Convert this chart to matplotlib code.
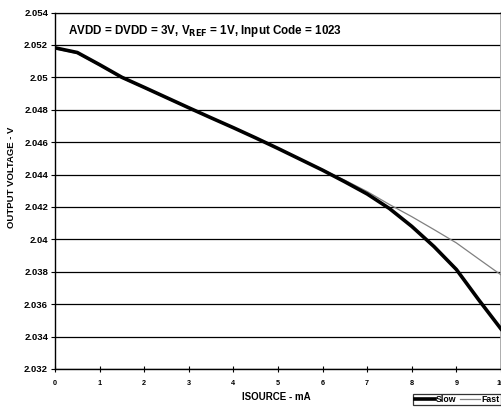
import matplotlib
matplotlib.use("Agg")
import matplotlib.pyplot as plt
from matplotlib.ticker import FixedLocator, FixedFormatter

plt.rcParams['font.family'] = ['Liberation Sans', 'DejaVu Sans']

isource = [0, 0.5, 1, 1.5, 2, 2.5, 3, 3.5, 4, 4.5, 5, 5.5, 6, 6.5, 7, 7.5, 8, 8.5, 9, 9.5, 10]
slow = [2.05182, 2.05153, 2.05078, 2.05000, 2.04938, 2.04875, 2.04812, 2.04750, 2.04689,
        2.04626, 2.04561, 2.04494, 2.04427, 2.04355, 2.04280, 2.04190, 2.04080, 2.03955,
        2.03814, 2.03627, 2.03447]
fast = [2.05176, 2.05147, 2.05073, 2.04996, 2.04934, 2.04871, 2.04809, 2.04747, 2.04687,
        2.04625, 2.04561, 2.04495, 2.04430, 2.04365, 2.04295, 2.04215, 2.04140, 2.04060,
        2.03978, 2.03879, 2.03781]
yticks = [2.032, 2.034, 2.036, 2.038, 2.040, 2.042, 2.044, 2.046, 2.048, 2.050, 2.052, 2.054]
ytick_labels = ["2.032", "2.034", "2.036", "2.038", "2.04", "2.042", "2.044", "2.046",
                "2.048", "2.05", "2.052", "2.054"]
xticks = [0, 1, 2, 3, 4, 5, 6, 7, 8, 9, 10]
xtick_labels = ["0", "1", "2", "3", "4", "5", "6", "7", "8", "9", "10"]

fig = plt.figure(figsize=(5.02, 4.07), dpi=100)
ax = fig.add_axes([55 / 502, 38 / 407, 446 / 502, 356.5 / 407])

ax.set_xlim(0, 10)
ax.set_ylim(2.032, 2.054)

for yv in yticks:
    ax.axhline(yv, color='black', lw=0.9, zorder=1)

ax.plot(isource, fast, color='#808080', lw=0.9, label='Fast', zorder=3)
ax.plot(isource, slow, color='black', lw=2.6, label='Slow', zorder=4, solid_joinstyle='round')

ax.yaxis.set_major_locator(FixedLocator(yticks))
ax.yaxis.set_major_formatter(FixedFormatter(ytick_labels))
ax.xaxis.set_major_locator(FixedLocator(xticks))
ax.xaxis.set_major_formatter(FixedFormatter(xtick_labels))

for lab in ax.get_yticklabels():
    lab.set_fontweight('bold')
    lab.set_fontsize(6.8)
for lab in ax.get_xticklabels():
    lab.set_fontweight('bold')
    lab.set_fontsize(5.2)

ax.tick_params(axis='y', direction='out', length=3, width=0.8, pad=2)
ax.tick_params(axis='x', direction='inout', length=4, width=0.8, pad=6)

ax.spines['left'].set_color('black')
ax.spines['bottom'].set_color('black')
ax.spines['left'].set_linewidth(1.0)
ax.spines['bottom'].set_linewidth(1.0)
ax.spines['right'].set_color('#a0a0a0')
ax.spines['right'].set_linewidth(1.2)
ax.spines['top'].set_color('black')
ax.spines['top'].set_linewidth(0.9)

ax.text(0.03, 0.948, r"AVDD = DVDD = 3V, V$_{\mathbf{REF}}$ = 1V, Input Code = 1023",
        transform=ax.transAxes, fontsize=8.4, fontweight='bold', va='center', ha='left',
        zorder=5)

ax.set_ylabel("OUTPUT VOLTAGE - V", fontsize=6.8, fontweight='bold')
ax.yaxis.set_label_coords(-0.088, 0.538)
ax.set_xlabel("ISOURCE - mA", fontsize=7, fontweight='bold')
ax.xaxis.set_label_coords(0.496, -0.065)

handles, labels = ax.get_legend_handles_labels()
order = [labels.index('Slow'), labels.index('Fast')]
leg = ax.legend([handles[i] for i in order], [labels[i] for i in order],
                loc='lower right', bbox_to_anchor=(1.0, -0.102), ncol=2, frameon=True,
                fancybox=False, edgecolor='black', fontsize=6.3, handlelength=2.3,
                handletextpad=0.15, columnspacing=0.4, borderpad=0.15, borderaxespad=0)
leg.get_frame().set_linewidth(0.9)
for t in leg.get_texts():
    t.set_fontweight('bold')

fig.savefig("out.png", dpi=100)
